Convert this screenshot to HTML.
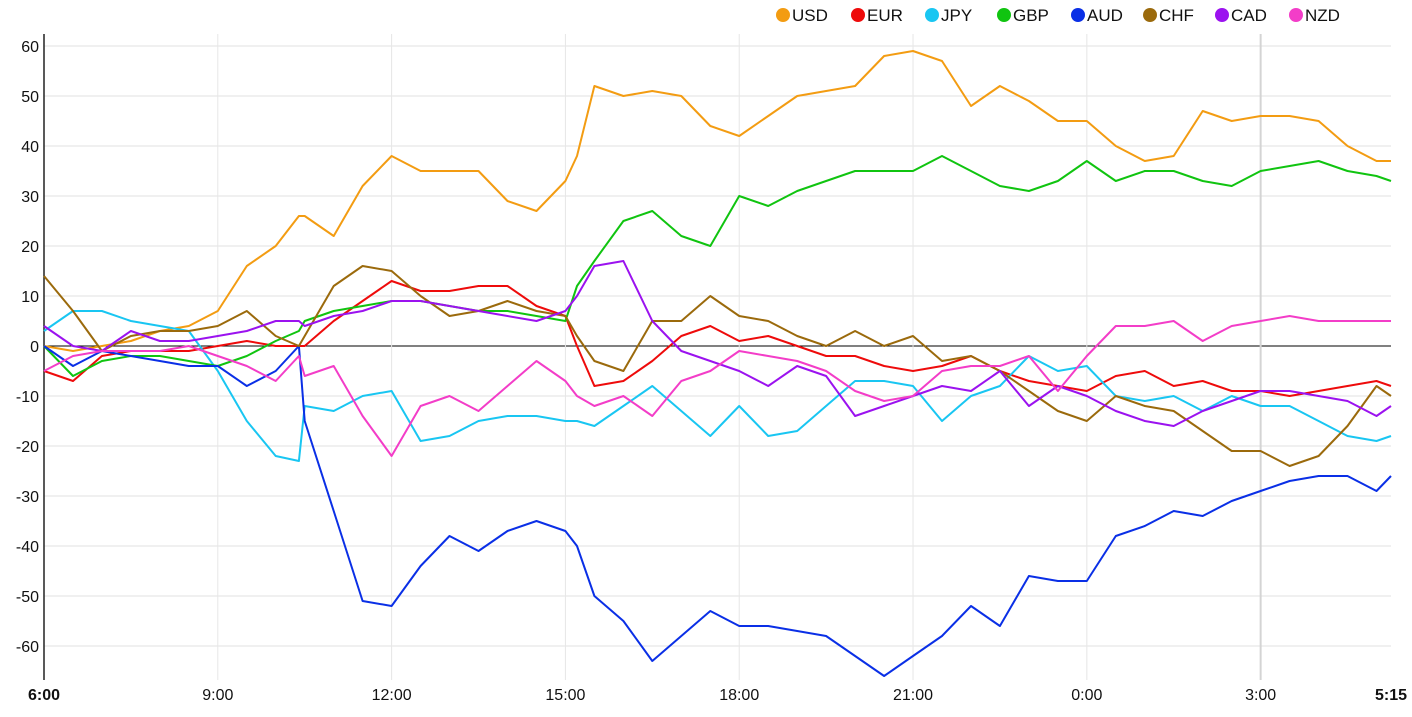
<!DOCTYPE html>
<html><head><meta charset="utf-8"><style>
html,body{margin:0;padding:0;background:#fff;}
svg{display:block;font-family:"Liberation Sans",Arial,sans-serif;}
</style></head><body>
<svg id="chart" width="1412" height="717" viewBox="0 0 1412 717"></svg>
<script>
const times=[0,0.5,1,1.5,2,2.5,3,3.5,4,4.4,4.5,5,5.5,6,6.5,7,7.5,8,8.5,9,9.2,9.5,10,10.5,11,11.5,12,12.5,13,13.5,14,14.5,15,15.5,16,16.5,17,17.5,18,18.5,19,19.5,20,20.5,21,21.5,22,22.5,23,23.25];
const usd=[0,-1,0,1,3,4,7,16,20,26,26,22,32,38,35,35,35,29,27,33,38,52,50,51,50,44,42,46,50,51,52,58,59,57,48,52,49,45,45,40,37,38,47,45,46,46,45,40,37,37];
const eur=[-5,-7,-2,-1,-1,-1,0,1,0,0,0,5,9,13,11,11,12,12,8,6,0,-8,-7,-3,2,4,1,2,0,-2,-2,-4,-5,-4,-2,-5,-7,-8,-9,-6,-5,-8,-7,-9,-9,-10,-9,-8,-7,-8];
const jpy=[3,7,7,5,4,3,-5,-15,-22,-23,-12,-13,-10,-9,-19,-18,-15,-14,-14,-15,-15,-16,-12,-8,-13,-18,-12,-18,-17,-12,-7,-7,-8,-15,-10,-8,-2,-5,-4,-10,-11,-10,-13,-10,-12,-12,-15,-18,-19,-18];
const gbp=[0,-6,-3,-2,-2,-3,-4,-2,1,3,5,7,8,9,9,8,7,7,6,5,12,17,25,27,22,20,30,28,31,33,35,35,35,38,35,32,31,33,37,33,35,35,33,32,35,36,37,35,34,33];
const aud=[0,-4,-1,-2,-3,-4,-4,-8,-5,0,-15,-33,-51,-52,-44,-38,-41,-37,-35,-37,-40,-50,-55,-63,-58,-53,-56,-56,-57,-58,-62,-66,-62,-58,-52,-56,-46,-47,-47,-38,-36,-33,-34,-31,-29,-27,-26,-26,-29,-26];
const chf=[14,7,-1,2,3,3,4,7,2,0,2,12,16,15,10,6,7,9,7,6,2,-3,-5,5,5,10,6,5,2,0,3,0,2,-3,-2,-5,-9,-13,-15,-10,-12,-13,-17,-21,-21,-24,-22,-16,-8,-10];
const cad=[4,0,-1,3,1,1,2,3,5,5,4,6,7,9,9,8,7,6,5,7,10,16,17,5,-1,-3,-5,-8,-4,-6,-14,-12,-10,-8,-9,-5,-12,-8,-10,-13,-15,-16,-13,-11,-9,-9,-10,-11,-14,-12];
const nzd=[-5,-2,-1,-1,-1,0,-2,-4,-7,-2,-6,-4,-14,-22,-12,-10,-13,-8,-3,-7,-10,-12,-10,-14,-7,-5,-1,-2,-3,-5,-9,-11,-10,-5,-4,-4,-2,-9,-2,4,4,5,1,4,5,6,5,5,5,5];
const seriesNames=["USD","EUR","JPY","GBP","AUD","CHF","CAD","NZD"];
const seriesColors=["#f39c12","#ee0b0b","#19c6f2","#10c410","#0a2fe6","#9b6a0c","#9b12ef","#f33dc8"];
const seriesData=[usd,eur,jpy,gbp,aud,chf,cad,nzd];
const yTicks=[60,50,40,30,20,10,0,-10,-20,-30,-40,-50,-60];
const xTickHours=[0,3,6,9,12,15,18,21,23.25];
const xTickLabels=["6:00","9:00","12:00","15:00","18:00","21:00","0:00","3:00","5:15"];

const NS="http://www.w3.org/2000/svg";
const svg=document.getElementById('chart');
const X0=44,X1=1391,T1=23.25;
const xs=t=>X0+(X1-X0)*t/T1;
const ys=v=>346-v*5;
const TOP=34,BOT=680;
function el(tag,attrs,parent){const e=document.createElementNS(NS,tag);for(const k in attrs)e.setAttribute(k,attrs[k]);(parent||svg).appendChild(e);return e;}

const grid=el('g',{});


yTicks.forEach(v=>{
  const l=el('line',{x1:X0,x2:X1,y1:ys(v),y2:ys(v),stroke:v===0?'#000':'#e2e2e2','stroke-width':1},grid);
  
  
  const t=el('text',{x:39,y:ys(v)+6,'text-anchor':'end','font-size':16,fill:'#111'});
  t.textContent=v;
  
  
});
xTickHours.forEach((h,i)=>{
  if(i>0&&i<xTickHours.length-1){
    const l=el('line',{x1:xs(h),x2:xs(h),y1:TOP,y2:BOT,stroke:i===7?'#d4d4d4':'#e6e6e6','stroke-width':i===7?2:1},grid);
    
    
  }
  const bold=(i===0||i===xTickHours.length-1);
  const t=el('text',{x:xs(h),y:700,'text-anchor':'middle','font-size':16,'font-weight':bold?'bold':'normal',fill:'#111'});
  t.textContent=xTickLabels[i];
  
  
});
const ax=el('line',{x1:X0,x2:X0,y1:TOP,y2:BOT,stroke:'#222','stroke-width':1.5});



seriesData.forEach((d,si)=>{
  const pts=d.map((v,i)=>xs(times[i]).toFixed(1)+','+ys(v).toFixed(1)).join(' ');
  const p=el('polyline',{points:pts,fill:'none',stroke:seriesColors[si],'stroke-width':2,'stroke-linejoin':'round'});
  
  
});

const legendX=[783,858,932,1004,1078,1150,1222,1296];
const lg=el('g',{});


seriesNames.forEach((n,i)=>{
  const g=el('g',{},lg);
  
  
  el('circle',{cx:legendX[i],cy:15,r:7,fill:seriesColors[i]},g);
  const t=el('text',{x:legendX[i]+9,y:21,'font-size':17,fill:'#111'},g);
  t.textContent=n;
});
</script>
</body></html>
